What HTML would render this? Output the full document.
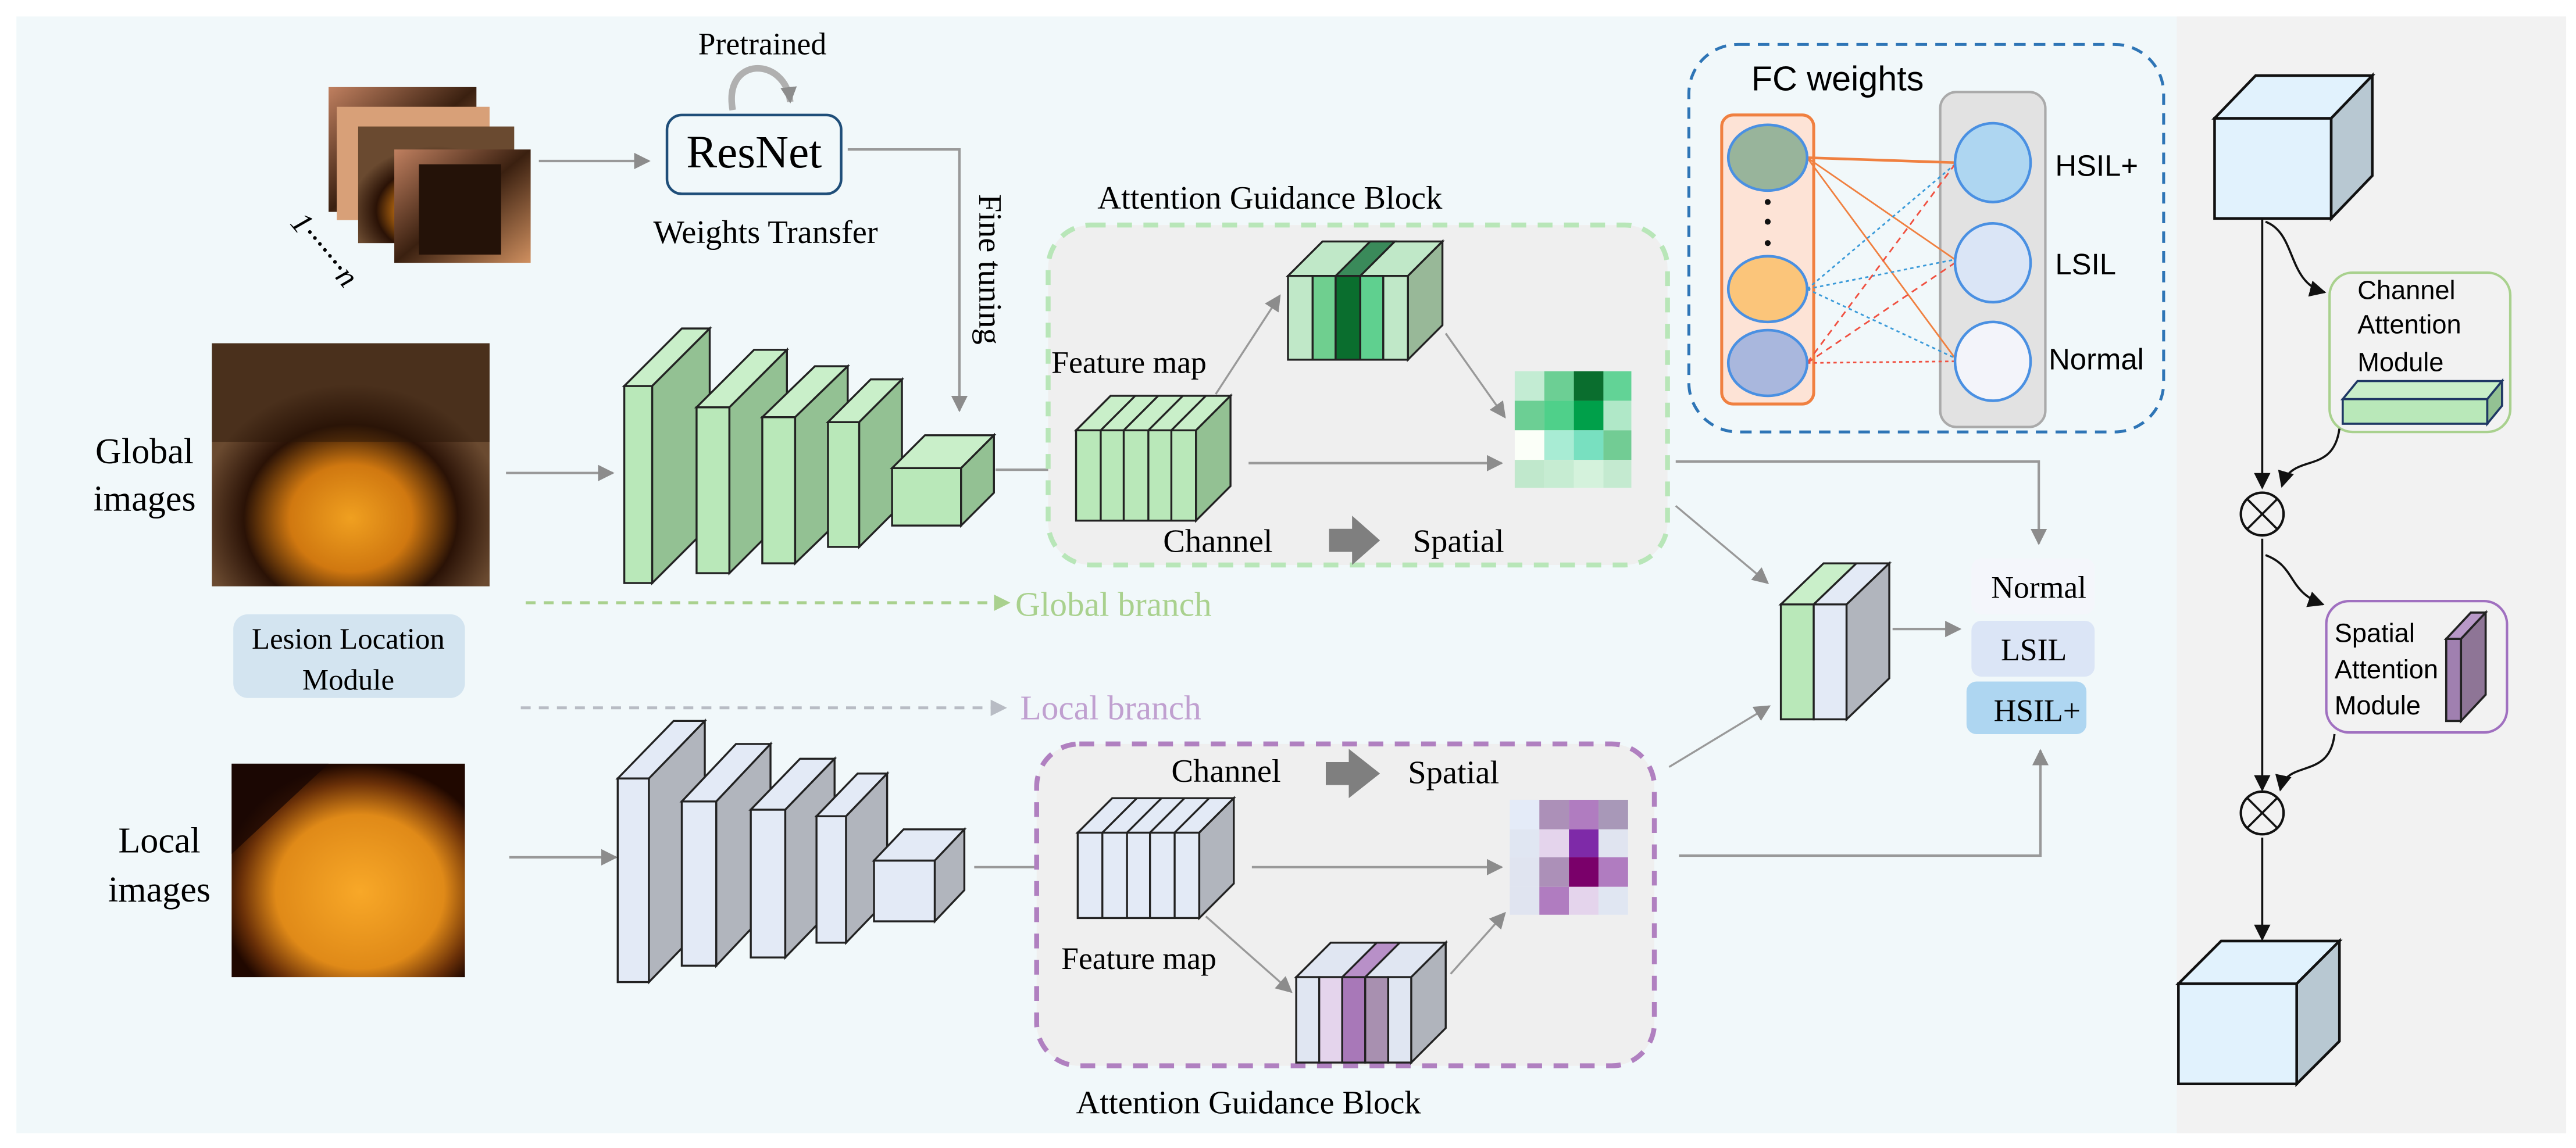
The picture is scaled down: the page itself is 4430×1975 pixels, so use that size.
<!DOCTYPE html>
<html><head><meta charset="utf-8"><style>
html,body{margin:0;padding:0;background:#fff;}
svg{display:block;}
.s{font-family:"Liberation Serif",serif;}
.a{font-family:"Liberation Sans",sans-serif;}
</style></head><body>
<svg width="4430" height="1975" viewBox="0 0 1568 699" xmlns="http://www.w3.org/2000/svg">
<defs>
<marker id="g" markerWidth="10" markerHeight="10" refX="9" refY="5" orient="auto" markerUnits="userSpaceOnUse"><path d="M0,0 L10,5 L0,10 z" fill="#8c8c8c"/></marker>
<marker id="k" markerWidth="10" markerHeight="10" refX="9" refY="5" orient="auto" markerUnits="userSpaceOnUse"><path d="M0,0 L10,5 L0,10 z" fill="#111"/></marker>
<marker id="gg" markerWidth="10" markerHeight="10" refX="9" refY="5" orient="auto" markerUnits="userSpaceOnUse"><path d="M0,0 L10,5 L0,10 z" fill="#a9d18e"/></marker>
<marker id="gb" markerWidth="10" markerHeight="10" refX="9" refY="5" orient="auto" markerUnits="userSpaceOnUse"><path d="M0,0 L10,5 L0,10 z" fill="#b8bcc4"/></marker>
<radialGradient id="p1" cx="0.5" cy="0.72" r="0.55"><stop offset="0" stop-color="#f0a020"/><stop offset="0.4" stop-color="#d07810"/><stop offset="0.7" stop-color="#2a1206"/><stop offset="1" stop-color="#6a4a30"/></radialGradient>
<radialGradient id="p2" cx="0.55" cy="0.6" r="0.6"><stop offset="0" stop-color="#f8a828"/><stop offset="0.6" stop-color="#e08a18"/><stop offset="0.85" stop-color="#6a3008"/><stop offset="1" stop-color="#200800"/></radialGradient>
<linearGradient id="p3" x1="0" y1="0" x2="1" y2="1"><stop offset="0" stop-color="#c08060"/><stop offset="0.5" stop-color="#3a2010"/><stop offset="1" stop-color="#d09060"/></linearGradient>
</defs>
<rect x="0" y="0" width="1568" height="699" fill="#fff"/>
<rect x="10" y="10" width="1315" height="680" fill="#f1f8fa"/>
<rect x="1325" y="10" width="237" height="680" fill="#f2f2f2"/>

<!-- image stack -->
<rect x="200" y="53" width="90" height="76" fill="url(#p3)"/>
<rect x="205" y="65" width="93" height="69" fill="#d8a078"/>
<rect x="218" y="77" width="95" height="71" fill="url(#p1)"/>
<rect x="240" y="91" width="83" height="69" fill="url(#p3)"/>
<rect x="255" y="100" width="50" height="55" fill="#241208"/>
<text class="s" font-size="19" font-style="italic" transform="translate(176,136) rotate(50)">1·······n</text>
<line x1="328" y1="98" x2="395" y2="98" stroke="#999" stroke-width="1.5" marker-end="url(#g)"/>

<text class="s" x="464" y="33" font-size="19" text-anchor="middle">Pretrained</text>
<path d="M446,67 C440,34 478,34 481,62" fill="none" stroke="#b0b0b0" stroke-width="4" marker-end="url(#g)"/>
<rect x="406" y="70" width="106" height="48" rx="9" fill="#f1f8fa" stroke="#1f4e79" stroke-width="1.6"/>
<text class="s" x="459" y="102" font-size="28" text-anchor="middle">ResNet</text>
<text class="s" x="466" y="148" font-size="20" text-anchor="middle">Weights Transfer</text>
<polyline points="516,91 584,91 584,250" fill="none" stroke="#999" stroke-width="1.5" marker-end="url(#g)"/>
<text class="s" font-size="20" text-anchor="middle" transform="translate(596,164) rotate(90)">Fine tuning</text>

<!-- global branch -->
<rect x="129" y="209" width="169" height="148" fill="url(#p1)"/>
<rect x="129" y="209" width="169" height="60" fill="#2a1608" opacity="0.5"/>
<text class="s" x="88" y="282" font-size="22" text-anchor="middle">Global</text>
<text class="s" x="88" y="311" font-size="22" text-anchor="middle">images</text>
<line x1="308" y1="288" x2="373" y2="288" stroke="#999" stroke-width="1.5" marker-end="url(#g)"/>

<g stroke="#222" stroke-width="1.2">
<rect x="380" y="235" width="17" height="120" fill="#b9e8b9"/>
<polygon points="380,235 415,200 432,200 397,235" fill="#c9efc9"/>
<polygon points="397,235 432,200 432,320 397,355" fill="#93c193"/>
<rect x="424" y="248" width="20" height="101" fill="#b9e8b9"/>
<polygon points="424,248 459,213 479,213 444,248" fill="#c9efc9"/>
<polygon points="444,248 479,213 479,314 444,349" fill="#93c193"/>
<rect x="464" y="254" width="20" height="89" fill="#b9e8b9"/>
<polygon points="464,254 496,223 516,223 484,254" fill="#c9efc9"/>
<polygon points="484,254 516,223 516,312 484,343" fill="#93c193"/>
<rect x="504" y="257" width="19" height="76" fill="#b9e8b9"/>
<polygon points="504,257 530,231 549,231 523,257" fill="#c9efc9"/>
<polygon points="523,257 549,231 549,307 523,333" fill="#93c193"/>
<rect x="543" y="285" width="42" height="35" fill="#b9e8b9"/>
<polygon points="543,285 563,265 605,265 585,285" fill="#c9efc9"/>
<polygon points="585,285 605,265 605,300 585,320" fill="#93c193"/>
</g>
<line x1="606" y1="286" x2="654" y2="286" stroke="#999" stroke-width="1.5" marker-end="url(#g)"/>

<!-- attention block global -->
<text class="s" x="668" y="127" font-size="20">Attention Guidance Block</text>
<rect x="638" y="137" width="377" height="207" rx="26" fill="#efefef" stroke="#b8e6b8" stroke-width="3" stroke-dasharray="9,7"/>
<text class="s" x="640" y="227" font-size="19">Feature map</text>
<g stroke="#222" stroke-width="1.2">
<rect x="655" y="262" width="73" height="55" fill="#b9e8b9"/>
<polygon points="655,262 676,241 749,241 728,262" fill="#c9efc9"/>
<polygon points="728,262 749,241 749,296 728,317" fill="#93c193"/>
<line x1="670" y1="262" x2="670" y2="317"/><line x1="684" y1="262" x2="684" y2="317"/><line x1="699" y1="262" x2="699" y2="317"/><line x1="713" y1="262" x2="713" y2="317"/>
<line x1="670" y1="262" x2="691" y2="241"/><line x1="684" y1="262" x2="705" y2="241"/><line x1="699" y1="262" x2="720" y2="241"/><line x1="713" y1="262" x2="734" y2="241"/>
</g>
<line x1="740" y1="240" x2="779" y2="180" stroke="#999" stroke-width="1.2" marker-end="url(#g)"/>
<g stroke="#222" stroke-width="1.2">
<polygon points="784,168 805,147 878,147 857,168" fill="#c0e8c8"/>
<polygon points="857,168 878,147 878,198 857,219" fill="#98b898"/>
<rect x="784" y="168" width="15" height="51" fill="#c0e8c8"/>
<rect x="799" y="168" width="14" height="51" fill="#6fcf8f"/>
<rect x="813" y="168" width="15" height="51" fill="#0a6e2e"/>
<rect x="828" y="168" width="14" height="51" fill="#5fd08f"/>
<rect x="842" y="168" width="15" height="51" fill="#c0e8c8"/>
<polygon points="813,168 834,147 849,147 828,168" fill="#3a8a5a"/>
</g>
<line x1="880" y1="203" x2="916" y2="254" stroke="#999" stroke-width="1.2" marker-end="url(#g)"/>
<line x1="760" y1="282" x2="914" y2="282" stroke="#999" stroke-width="1.5" marker-end="url(#g)"/>
<g>
<rect x="922" y="226" width="18" height="18" fill="#c3ecd3"/><rect x="940" y="226" width="18" height="18" fill="#6ccf94"/><rect x="958" y="226" width="18" height="18" fill="#0a6e2e"/><rect x="976" y="226" width="17" height="18" fill="#62d396"/>
<rect x="922" y="244" width="18" height="18" fill="#6ccf94"/><rect x="940" y="244" width="18" height="18" fill="#4fd08a"/><rect x="958" y="244" width="18" height="18" fill="#00a04a"/><rect x="976" y="244" width="17" height="18" fill="#b0e8c8"/>
<rect x="922" y="262" width="18" height="18" fill="#fbfff8"/><rect x="940" y="262" width="18" height="18" fill="#a8ecd4"/><rect x="958" y="262" width="18" height="18" fill="#78e0c0"/><rect x="976" y="262" width="17" height="18" fill="#72cc94"/>
<rect x="922" y="280" width="18" height="17" fill="#c0e8cc"/><rect x="940" y="280" width="18" height="17" fill="#c6ecd2"/><rect x="958" y="280" width="18" height="17" fill="#d4f2dc"/><rect x="976" y="280" width="17" height="17" fill="#c4ead0"/>
</g>
<text class="s" x="708" y="336" font-size="20">Channel</text>
<polygon points="809,322 823,322 823,314 840,329 823,344 823,336 809,336" fill="#7f7f7f"/>
<text class="s" x="860" y="336" font-size="20">Spatial</text>

<polyline points="1020,281 1241,281 1241,331" fill="none" stroke="#999" stroke-width="1.5" marker-end="url(#g)"/>
<line x1="1020" y1="308" x2="1076" y2="355" stroke="#999" stroke-width="1.2" marker-end="url(#g)"/>

<!-- FC weights -->
<rect x="1028" y="27" width="289" height="236" rx="30" fill="none" stroke="#2e75b6" stroke-width="1.8" stroke-dasharray="7,5"/>
<text class="a" x="1066" y="55" font-size="21">FC weights</text>
<rect x="1048" y="70" width="56" height="176" rx="7" fill="#fde3d6" stroke="#f08040" stroke-width="1.8"/>
<rect x="1181" y="56" width="64" height="204" rx="10" fill="#e2e2e2" stroke="#aaa" stroke-width="1.5"/>
<g stroke-width="1">
<line x1="1100" y1="96" x2="1190" y2="99" stroke="#f08040" stroke-width="1.6"/>
<line x1="1100" y1="96" x2="1190" y2="158" stroke="#f08040"/>
<line x1="1100" y1="96" x2="1190" y2="218" stroke="#f08040"/>
<line x1="1100" y1="176" x2="1190" y2="100" stroke="#3a9ad9" stroke-dasharray="2,2"/>
<line x1="1100" y1="176" x2="1190" y2="158" stroke="#3a9ad9" stroke-dasharray="2,2"/>
<line x1="1100" y1="176" x2="1190" y2="218" stroke="#3a9ad9" stroke-dasharray="2,2"/>
<line x1="1100" y1="221" x2="1190" y2="100" stroke="#f05040" stroke-dasharray="4,3"/>
<line x1="1100" y1="221" x2="1190" y2="160" stroke="#f05040" stroke-dasharray="4,3"/>
<line x1="1100" y1="221" x2="1190" y2="220" stroke="#f05040" stroke-dasharray="2,2"/>
</g>
<g stroke="#4a90e2" stroke-width="1.6">
<ellipse cx="1076" cy="96" rx="24" ry="20" fill="#98b49b"/>
<ellipse cx="1076" cy="176" rx="24" ry="20" fill="#fbc57a"/>
<ellipse cx="1076" cy="221" rx="24" ry="20" fill="#a9b7dd"/>
<ellipse cx="1213" cy="99" rx="23" ry="24" fill="#aed6f1"/>
<ellipse cx="1213" cy="160" rx="23" ry="24" fill="#dae5f6"/>
<ellipse cx="1213" cy="220" rx="23" ry="24" fill="#f3f4fa"/>
</g>
<circle cx="1076" cy="123" r="1.8" fill="#111"/><circle cx="1076" cy="135" r="1.8" fill="#111"/><circle cx="1076" cy="148" r="1.8" fill="#111"/>
<text class="a" x="1251" y="107" font-size="18">HSIL+</text>
<text class="a" x="1251" y="167" font-size="18">LSIL</text>
<text class="a" x="1247" y="225" font-size="18">Normal</text>

<!-- combined -->
<g stroke="#222" stroke-width="1.2">
<rect x="1084" y="368" width="20" height="70" fill="#b9e8b9"/>
<rect x="1104" y="368" width="20" height="70" fill="#e3eaf6"/>
<polygon points="1084,368 1110,343 1130,343 1104,368" fill="#c9efc9"/>
<polygon points="1104,368 1130,343 1150,343 1124,368" fill="#e3eaf6"/>
<polygon points="1124,368 1150,343 1150,413 1124,438" fill="#b1b5bd"/>
</g>
<line x1="1152" y1="383" x2="1193" y2="383" stroke="#999" stroke-width="1.5" marker-end="url(#g)"/>
<rect x="1200" y="340" width="75" height="34" rx="6" fill="#f4f6fb"/>
<text class="s" x="1241" y="364" font-size="19" text-anchor="middle">Normal</text>
<rect x="1200" y="378" width="75" height="34" rx="6" fill="#dbe5f6"/>
<text class="s" x="1238" y="402" font-size="19" text-anchor="middle">LSIL</text>
<rect x="1197" y="415" width="73" height="32" rx="6" fill="#aed6f1"/>
<text class="s" x="1240" y="439" font-size="19" text-anchor="middle">HSIL+</text>

<!-- branches -->
<line x1="320" y1="367" x2="614" y2="367" stroke="#a9d18e" stroke-width="1.8" stroke-dasharray="6,5" marker-end="url(#gg)"/>
<text class="s" x="618" y="375" font-size="21" fill="#a9d18e">Global branch</text>
<rect x="142" y="374" width="141" height="51" rx="9" fill="#d3e4f0"/>
<text class="s" x="212" y="395" font-size="18" text-anchor="middle">Lesion Location</text>
<text class="s" x="212" y="420" font-size="18" text-anchor="middle">Module</text>
<line x1="317" y1="431" x2="612" y2="431" stroke="#b8bcc4" stroke-width="1.8" stroke-dasharray="6,5" marker-end="url(#gb)"/>
<text class="s" x="621" y="438" font-size="21" fill="#c0a0d0">Local branch</text>

<!-- local -->
<rect x="141" y="465" width="142" height="130" fill="url(#p2)"/>
<polygon points="141,465 200,465 141,520" fill="#1a0804" opacity="0.8"/>
<text class="s" x="97" y="519" font-size="22" text-anchor="middle">Local</text>
<text class="s" x="97" y="549" font-size="22" text-anchor="middle">images</text>
<line x1="310" y1="522" x2="375" y2="522" stroke="#999" stroke-width="1.5" marker-end="url(#g)"/>
<g stroke="#222" stroke-width="1.2">
<rect x="376" y="474" width="19" height="124" fill="#e3eaf6"/>
<polygon points="376,474 410,439 429,439 395,474" fill="#e3eaf6"/>
<polygon points="395,474 429,439 429,563 395,598" fill="#b1b5bd"/>
<rect x="415" y="488" width="21" height="100" fill="#e3eaf6"/>
<polygon points="415,488 448,453 469,453 436,488" fill="#e3eaf6"/>
<polygon points="436,488 469,453 469,553 436,588" fill="#b1b5bd"/>
<rect x="457" y="493" width="21" height="90" fill="#e3eaf6"/>
<polygon points="457,493 487,462 508,462 478,493" fill="#e3eaf6"/>
<polygon points="478,493 508,462 508,552 478,583" fill="#b1b5bd"/>
<rect x="497" y="497" width="18" height="77" fill="#e3eaf6"/>
<polygon points="497,497 522,471 540,471 515,497" fill="#e3eaf6"/>
<polygon points="515,497 540,471 540,548 515,574" fill="#b1b5bd"/>
<rect x="532" y="524" width="37" height="37" fill="#e3eaf6"/>
<polygon points="532,524 550,505 587,505 569,524" fill="#e3eaf6"/>
<polygon points="569,524 587,505 587,542 569,561" fill="#b1b5bd"/>
</g>
<line x1="593" y1="528" x2="645" y2="528" stroke="#999" stroke-width="1.5" marker-end="url(#g)"/>
<rect x="631" y="453" width="376" height="196" rx="26" fill="#efefef" stroke="#b080c0" stroke-width="3" stroke-dasharray="9,7"/>
<text class="s" x="713" y="476" font-size="20">Channel</text>
<polygon points="807,464 821,464 821,456 840,471 821,486 821,478 807,478" fill="#7f7f7f"/>
<text class="s" x="857" y="477" font-size="20">Spatial</text>
<g stroke="#222" stroke-width="1.2">
<rect x="656" y="507" width="74" height="52" fill="#e3eaf6"/>
<polygon points="656,507 677,486 751,486 730,507" fill="#e3eaf6"/>
<polygon points="730,507 751,486 751,538 730,559" fill="#b1b5bd"/>
<line x1="671" y1="507" x2="671" y2="559"/><line x1="686" y1="507" x2="686" y2="559"/><line x1="700" y1="507" x2="700" y2="559"/><line x1="715" y1="507" x2="715" y2="559"/>
<line x1="671" y1="507" x2="692" y2="486"/><line x1="686" y1="507" x2="707" y2="486"/><line x1="700" y1="507" x2="721" y2="486"/><line x1="715" y1="507" x2="736" y2="486"/>
</g>
<text class="s" x="646" y="590" font-size="19">Feature map</text>
<line x1="762" y1="528" x2="914" y2="528" stroke="#999" stroke-width="1.5" marker-end="url(#g)"/>
<line x1="734" y1="558" x2="786" y2="604" stroke="#999" stroke-width="1.2" marker-end="url(#g)"/>
<g stroke="#222" stroke-width="1.2">
<polygon points="789,595 810,574 880,574 859,595" fill="#e0e6f2"/>
<polygon points="859,595 880,574 880,626 859,647" fill="#b0b4bc"/>
<rect x="789" y="595" width="14" height="52" fill="#e0e6f2"/>
<rect x="803" y="595" width="14" height="52" fill="#e4d4ec"/>
<rect x="817" y="595" width="14" height="52" fill="#a878b8"/>
<rect x="831" y="595" width="14" height="52" fill="#a890b0"/>
<rect x="845" y="595" width="14" height="52" fill="#e0e6f2"/>
<polygon points="817,595 838,574 852,574 831,595" fill="#b890c8"/>
</g>
<line x1="883" y1="593" x2="916" y2="556" stroke="#999" stroke-width="1.2" marker-end="url(#g)"/>
<g>
<rect x="919" y="487" width="18" height="18" fill="#e4ebf8"/><rect x="937" y="487" width="18" height="18" fill="#ac90b8"/><rect x="955" y="487" width="18" height="18" fill="#b07cc0"/><rect x="973" y="487" width="18" height="18" fill="#a898b8"/>
<rect x="919" y="505" width="18" height="17" fill="#e0e6f2"/><rect x="937" y="505" width="18" height="17" fill="#e4d4ec"/><rect x="955" y="505" width="18" height="17" fill="#7e2aa8"/><rect x="973" y="505" width="18" height="17" fill="#e0e4f0"/>
<rect x="919" y="522" width="18" height="18" fill="#e0e4f0"/><rect x="937" y="522" width="18" height="18" fill="#ac90b8"/><rect x="955" y="522" width="18" height="18" fill="#7a006a"/><rect x="973" y="522" width="18" height="18" fill="#b07cc0"/>
<rect x="919" y="540" width="18" height="17" fill="#e0e4f0"/><rect x="937" y="540" width="18" height="17" fill="#b07cc0"/><rect x="955" y="540" width="18" height="17" fill="#e4d4ec"/><rect x="973" y="540" width="18" height="17" fill="#e0e6f2"/>
</g>
<text class="s" x="655" y="678" font-size="20">Attention Guidance Block</text>
<polyline points="1022,521 1242,521 1242,457" fill="none" stroke="#999" stroke-width="1.5" marker-end="url(#g)"/>
<line x1="1016" y1="467" x2="1077" y2="430" stroke="#999" stroke-width="1.2" marker-end="url(#g)"/>

<!-- right panel -->
<g stroke="#111" stroke-width="1.6">
<rect x="1348" y="72" width="71" height="61" fill="#e1f2fd"/>
<polygon points="1348,72 1373,46 1444,46 1419,72" fill="#e1f2fd"/>
<polygon points="1419,72 1444,46 1444,107 1419,133" fill="#b8c8d2"/>
</g>
<line x1="1377" y1="133" x2="1377" y2="297" stroke="#111" stroke-width="1.3" marker-end="url(#k)"/>
<path d="M1379,135 C1398,142 1392,172 1415,178" fill="none" stroke="#111" stroke-width="1.3" marker-end="url(#k)"/>
<rect x="1418" y="166" width="110" height="97" rx="14" fill="none" stroke="#a9d18e" stroke-width="1.5"/>
<text class="a" x="1435" y="182" font-size="16">Channel</text>
<text class="a" x="1435" y="203" font-size="16">Attention</text>
<text class="a" x="1435" y="226" font-size="16">Module</text>
<g stroke="#1f3864" stroke-width="1.3">
<rect x="1426" y="243" width="88" height="15" fill="#b9e8b9"/>
<polygon points="1426,243 1435,232 1523,232 1514,243" fill="#c9efc9"/>
<polygon points="1514,243 1523,232 1523,247 1514,258" fill="#93c193"/>
</g>
<path d="M1424,261 C1420,290 1395,275 1389,296" fill="none" stroke="#111" stroke-width="1.3" marker-end="url(#k)"/>
<circle cx="1377" cy="313" r="13" fill="none" stroke="#111" stroke-width="1.5"/>
<line x1="1368" y1="304" x2="1386" y2="322" stroke="#111" stroke-width="1.3"/><line x1="1386" y1="304" x2="1368" y2="322" stroke="#111" stroke-width="1.3"/>
<line x1="1377" y1="328" x2="1377" y2="481" stroke="#111" stroke-width="1.3" marker-end="url(#k)"/>
<path d="M1379,338 C1398,345 1392,360 1414,368" fill="none" stroke="#111" stroke-width="1.3" marker-end="url(#k)"/>
<rect x="1416" y="366" width="110" height="80" rx="14" fill="none" stroke="#a070c0" stroke-width="1.5"/>
<text class="a" x="1421" y="391" font-size="16">Spatial</text>
<text class="a" x="1421" y="413" font-size="16">Attention</text>
<text class="a" x="1421" y="435" font-size="16">Module</text>
<g stroke="#222" stroke-width="1.3">
<rect x="1489" y="389" width="9" height="50" fill="#a080b0"/>
<polygon points="1489,389 1504,373 1513,373 1498,389" fill="#b898c8"/>
<polygon points="1498,389 1513,373 1513,423 1498,439" fill="#8e7596"/>
</g>
<path d="M1421,447 C1418,475 1392,462 1388,481" fill="none" stroke="#111" stroke-width="1.3" marker-end="url(#k)"/>
<circle cx="1377" cy="495" r="13" fill="none" stroke="#111" stroke-width="1.5"/>
<line x1="1368" y1="486" x2="1386" y2="504" stroke="#111" stroke-width="1.3"/><line x1="1386" y1="486" x2="1368" y2="504" stroke="#111" stroke-width="1.3"/>
<line x1="1377" y1="510" x2="1377" y2="572" stroke="#111" stroke-width="1.3" marker-end="url(#k)"/>
<g stroke="#111" stroke-width="1.6">
<rect x="1326" y="599" width="72" height="61" fill="#e1f2fd"/>
<polygon points="1326,599 1352,573 1424,573 1398,599" fill="#e1f2fd"/>
<polygon points="1398,599 1424,573 1424,634 1398,660" fill="#b8c8d2"/>
</g>
</svg>
</body></html>
